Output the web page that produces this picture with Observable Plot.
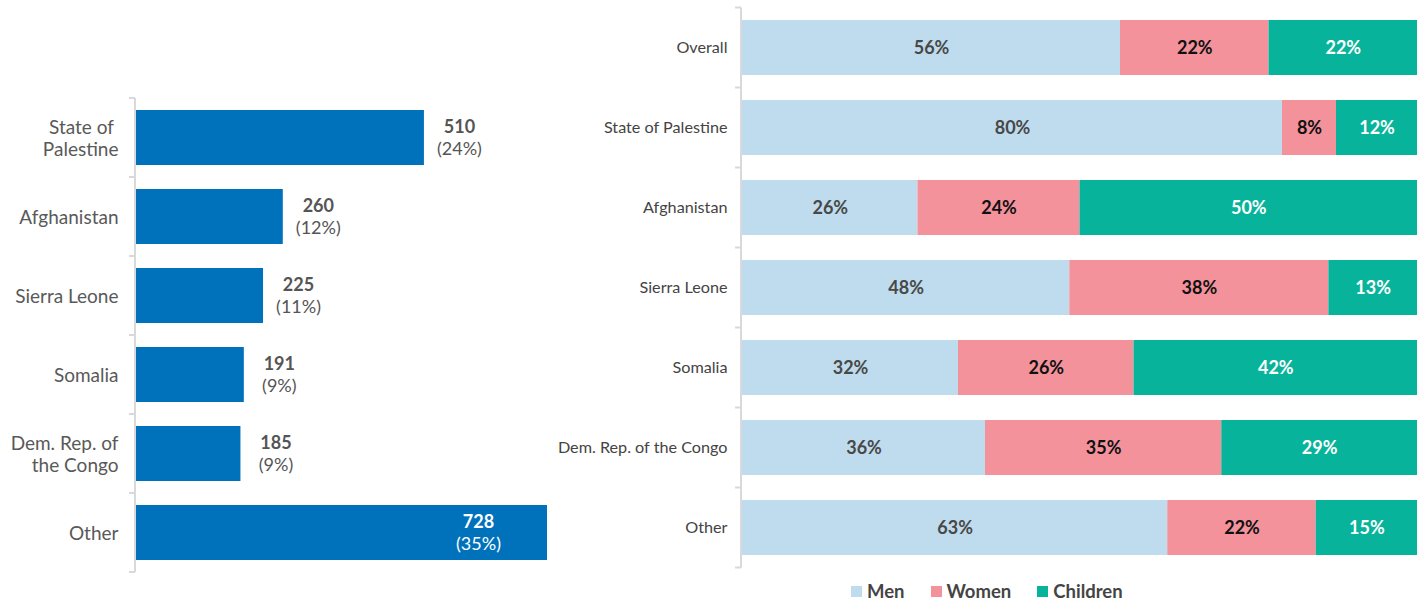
<!DOCTYPE html>
<html><head><meta charset="utf-8">
<script src="https://cdn.jsdelivr.net/npm/d3@7"></script>
<script src="https://cdn.jsdelivr.net/npm/@observablehq/plot@0.6"></script>
<style>
body{margin:0;background:#fff;font-family:Lato,sans-serif;}
#wrap{position:relative;width:1426px;height:602px;overflow:hidden;}
#left{position:absolute;left:0;top:0;}
#right{position:absolute;left:550px;top:0;}
#legend{position:absolute;left:851px;top:580px;}
.lg-swatches{margin:0 !important;min-height:0 !important;}
.lg-swatch{margin-right:26px;}
.lg-swatch > svg{margin-right:5px;}
</style></head><body>
<div id="wrap"><div id="left"></div><div id="right"></div><div id="legend"></div></div>
<script>
// ---- Left chart data ----
const countries = ["State of Palestine","Afghanistan","Sierra Leone","Somalia","Dem. Rep. of the Congo","Other"];
const countryLabels = ["State of\u00a0\nPalestine","Afghanistan","Sierra Leone","Somalia","Dem. Rep. of\nthe Congo","Other"];
const totals = [510,260,225,191,185,728];
const shares = [24,12,11,9,9,35];

// ---- Right chart data ----
const groups = ["Overall","State of Palestine","Afghanistan","Sierra Leone","Somalia","Dem. Rep. of the Congo","Other"];
const demographics = ["Men","Women","Children"];
const menPct = [56,80,26,48,32,36,63];
const womenPct = [22,8,24,38,26,35,22];
const childrenPct = [22,12,50,13,42,29,15];

const demoColors = ["#BFDCEE","#F4929C","#07B49B"];
const barBlue = "#0072BC";
const axisGray = "#d9d9d9";

const rows = countries.map((c,i)=>({country:c, label:countryLabels[i], total:totals[i], share:shares[i]}));
const labelOf = new Map(rows.map(d=>[d.country,d.label]));
const maxTotal = d3.max(totals);

const long = [];
groups.forEach((g,i)=>{
  long.push({group:g, demo:"Men", value:menPct[i]});
  long.push({group:g, demo:"Women", value:womenPct[i]});
  long.push({group:g, demo:"Children", value:childrenPct[i]});
});

// axis line with ticks at band boundaries, computed from the band scale
function boundaryAxis(index, scales, values, dims) {
  const y = scales.y;
  const step = y.step(), bw = y.bandwidth();
  const off = (step - bw) / 2;
  const x0 = dims.marginLeft - 1;
  const dom = y.domain();
  const ys = dom.map(d => y(d) - off);
  ys.push(y(dom[dom.length-1]) + bw + off);
  const g = d3.create("svg:g").attr("stroke", axisGray).attr("stroke-width", 2);
  g.append("line").attr("x1", x0).attr("x2", x0).attr("y1", ys[0]).attr("y2", ys[ys.length-1]);
  for (const yy of ys) g.append("line").attr("x1", x0-6).attr("x2", x0).attr("y1", yy).attr("y2", yy);
  return g.node();
}

const inside = d => d.total === maxTotal;

const left = Plot.plot({
  width: 560, height: 602,
  marginTop: 97, marginBottom: 29, marginLeft: 136, marginRight: 13,
  style: {fontFamily: "Lato, sans-serif", background: "white"},
  x: {domain: [0, maxTotal], axis: null},
  y: {domain: countries, paddingInner: 0.31, paddingOuter: 0.14, axis: null},
  marks: [
    Plot.barX(rows, {y: "country", x: "total", fill: barBlue}),
    boundaryAxis,
    Plot.axisY({label: null, tickSize: 0, tickPadding: 18, tickFormat: d => labelOf.get(d), fontSize: 19, fill: "#595959", lineHeight: 1.15}),
    Plot.text(rows.filter(d=>!inside(d)), {y: "country", x: "total", text: d => String(d.total), dx: 35, dy: -11, fontSize: 18, fontWeight: 700, fill: "#555"}),
    Plot.text(rows.filter(d=>!inside(d)), {y: "country", x: "total", text: d => `(${d.share}%)`, dx: 35, dy: 11, fontSize: 18, fill: "#555"}),
    Plot.text(rows.filter(inside), {y: "country", x: "total", text: d => String(d.total), dx: -69, dy: -11, fontSize: 18, fontWeight: 700, fill: "white"}),
    Plot.text(rows.filter(inside), {y: "country", x: "total", text: d => `(${d.share}%)`, dx: -69, dy: 11, fontSize: 18, fill: "white"})
  ]
});
document.getElementById("left").append(left);

const stackOpts = extra => Plot.stackX({offset: "normalize", y: "group", x: "value", z: "demo", ...extra});
const labelFor = demo => d => d.demo === demo ? `${d.value}%` : "";

const right = Plot.plot({
  width: 876, height: 575,
  marginTop: 7, marginBottom: 8, marginLeft: 192, marginRight: 9,
  style: {fontFamily: "Lato, sans-serif", background: "white"},
  x: {domain: [0, 1], axis: null},
  y: {domain: groups, paddingInner: 0.3125, paddingOuter: 0.14, axis: null},
  color: {domain: demographics, range: demoColors},
  marks: [
    Plot.barX(long, stackOpts({fill: "demo"})),
    boundaryAxis,
    Plot.axisY({label: null, tickSize: 0, tickPadding: 15, fontSize: 16.2, fill: "#444"}),
    Plot.text(long, stackOpts({text: labelFor("Men"), fontSize: 18, fontWeight: 700, fill: "#484848"})),
    Plot.text(long, stackOpts({text: labelFor("Women"), fontSize: 18, fontWeight: 700, fill: "#111"})),
    Plot.text(long, stackOpts({text: labelFor("Children"), fontSize: 18, fontWeight: 700, fill: "white"}))
  ]
});
document.getElementById("right").append(right);

const legend = Plot.legend({
  color: {type: "ordinal", domain: demographics, range: demoColors},
  className: "lg",
  swatchSize: 11,
  style: {fontFamily: "Lato, sans-serif", fontSize: "18.5px", fontWeight: 700, color: "#444"}
});
document.getElementById("legend").append(legend);
</script>
</body></html>
